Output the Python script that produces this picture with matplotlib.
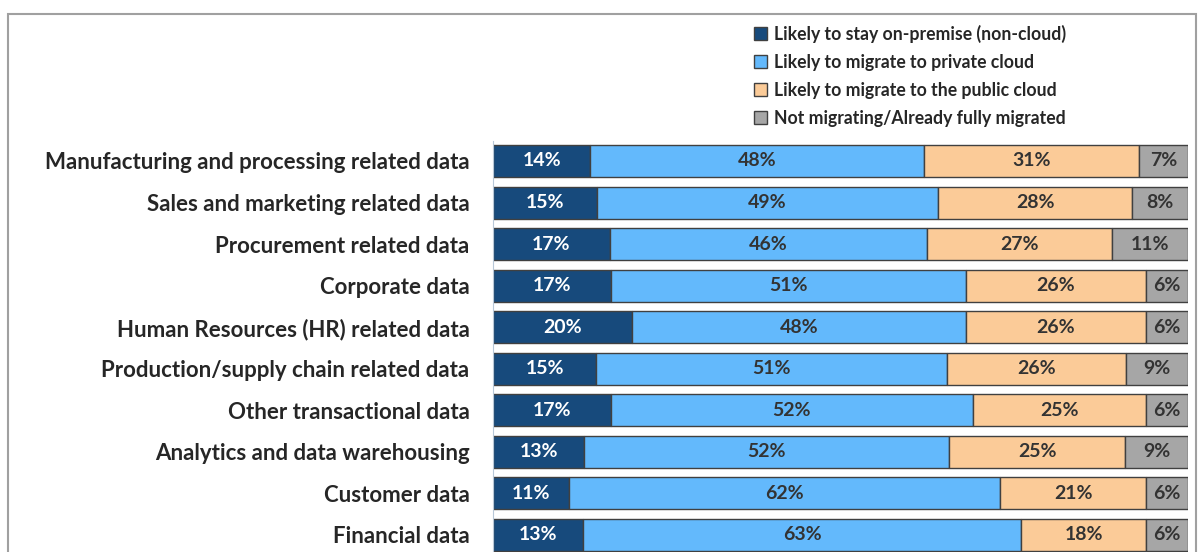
import matplotlib
matplotlib.use("Agg")
import matplotlib.pyplot as plt
import numpy as np
from matplotlib.patches import Patch, Rectangle

categories = [
    "Manufacturing and processing related data",
    "Sales and marketing related data",
    "Procurement related data",
    "Corporate data",
    "Human Resources (HR) related data",
    "Production/supply chain related data",
    "Other transactional data",
    "Analytics and data warehousing",
    "Customer data",
    "Financial data",
]
on_premise = [14, 15, 17, 17, 20, 15, 17, 13, 11, 13]
private_cloud = [48, 49, 46, 51, 48, 51, 52, 52, 62, 63]
public_cloud = [31, 28, 27, 26, 26, 26, 25, 25, 21, 18]
not_migrating = [7, 8, 11, 6, 6, 9, 6, 9, 6, 6]

series_names = [
    "Likely to stay on-premise (non-cloud)",
    "Likely to migrate to private cloud",
    "Likely to migrate to the public cloud",
    "Not migrating/Already fully migrated",
]
colors = ["#174A7C", "#63B9FC", "#FBCB98", "#A6A6A6"]
text_colors = ["white", "#333333", "#333333", "#333333"]

plt.rcParams["font.family"] = ["Lato", "DejaVu Sans"]

W, H = 1200, 552
fig = plt.figure(figsize=(W / 100, H / 100), dpi=100)

# outer frame
fig.patches.append(Rectangle((8 / W, -0.1), 1188 / W, 1.1 - 14 / H,
                             transform=fig.transFigure, fill=False,
                             edgecolor="#A0A0A0", lw=1.5))

ax = fig.add_axes([493 / W, 0, 695 / W, (H - 141) / H])

data = np.array([on_premise, private_cloud, public_cloud, not_migrating], dtype=float)
data = data / data.sum(axis=0) * 100
y = np.arange(len(categories))
left = np.zeros(len(categories))
raw = [on_premise, private_cloud, public_cloud, not_migrating]
for k in range(4):
    ax.barh(y, data[k], left=left, height=0.77, color=colors[k],
            edgecolor="#404040", linewidth=1.0)
    for i in range(len(categories)):
        ax.text(left[i] + data[k][i] / 2, y[i], f"{raw[k][i]}%",
                ha="center", va="center", fontsize=14, fontweight="bold",
                color=text_colors[k])
    left += data[k]

ax.set_xlim(0, 100)
ax.set_ylim(9.41, -0.48)
ax.set_yticks(y)
ax.set_yticklabels(categories, fontsize=16, fontweight="bold", color="#262626")
ax.tick_params(axis="y", length=0, pad=17)
ax.set_xticks([])
for s in ["top", "right", "bottom"]:
    ax.spines[s].set_visible(False)
ax.spines["left"].set_color("#B8C8D8")

handles = [Patch(facecolor=c, edgecolor="#404040", lw=1.0) for c in colors]
fig.legend(handles, series_names, loc="upper left",
           bbox_to_anchor=(754 / W, 1 - 25 / H), frameon=False,
           prop={"size": 12.7, "weight": "bold"}, labelcolor="#262626",
           handlelength=0.75, handleheight=0.75, handletextpad=0.4,
           labelspacing=0.62, borderpad=0, borderaxespad=0)

fig.savefig("out.png", dpi=100)
